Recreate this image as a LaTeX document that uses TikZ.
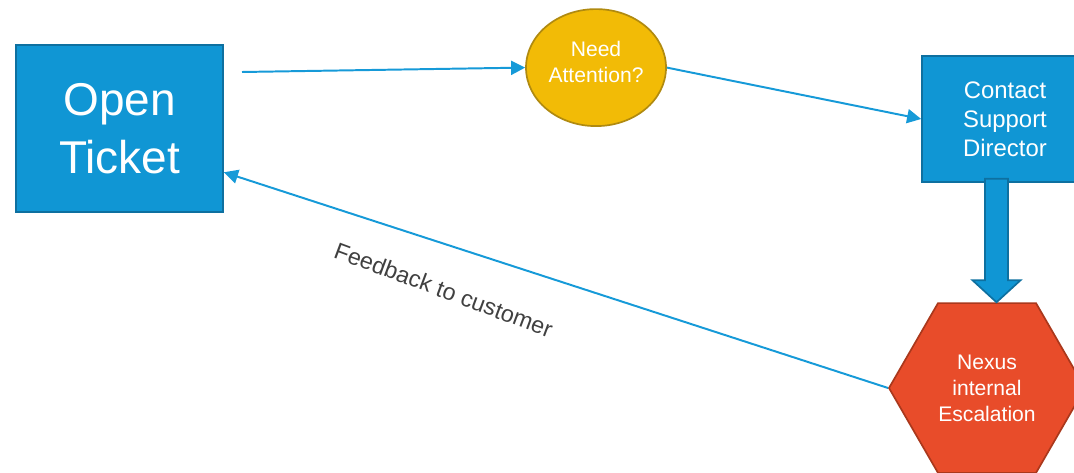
\documentclass[tikz,border=0pt]{standalone}
\usepackage{fontspec}
\setmainfont{Liberation Sans}
\usetikzlibrary{calc,arrows.meta,shapes.geometric}
\definecolor{boxblue}{RGB}{16,150,212}
\definecolor{boxedge}{RGB}{14,112,160}
\definecolor{lineblue}{RGB}{22,154,216}
\definecolor{askfill}{RGB}{242,187,6}
\definecolor{askedge}{RGB}{176,138,16}
\definecolor{hexfill}{RGB}{232,76,42}
\definecolor{hexedge}{RGB}{170,56,28}
\definecolor{notegray}{RGB}{64,64,64}
\tikzset{
	bluebox/.style={draw=boxedge, line width=1.2pt, fill=boxblue, text=white, align=center, inner sep=0pt},
	flow/.style={draw=lineblue, line width=1.4pt, -{Triangle[length=10pt,width=10pt]}},
}

\begin{document}
\begin{tikzpicture}
		%%%%% START %%%%%
		\useasboundingbox (0, 0) rectangle (26.85, 11.8);
		
		\node[bluebox, minimum width=5.175cm, minimum height=4.175cm, font=\fontsize{32.7pt}{41pt}\selectfont] (ticket) at (2.99, 8.59) {Open\\Ticket};
		
		\node[ellipse, draw=askedge, line width=1.2pt, fill=askfill, inner sep=0pt, minimum width=3.5cm, minimum height=2.925cm,
			label={[text=white, align=center, yshift=0.14cm, font=\fontsize{15pt}{19pt}\selectfont]center:Need\\Attention?}] (ask) at (14.9, 10.11) {};
		
		\node[bluebox, minimum width=4.15cm, minimum height=3.15cm, font=\fontsize{17pt}{20.5pt}\selectfont] (contact) at (25.125, 8.825) {Contact\\Support\\Director};
		
		\node[regular polygon, regular polygon sides=6, minimum size=4.9cm, draw=hexedge, line width=1.2pt, fill=hexfill, text=white, align=center, inner sep=0pt, font=\fontsize{15pt}{18.5pt}\selectfont] (esc) at (24.675, 2.1) {Nexus\\internal\\Escalation};
		
		\coordinate (start) at (6.05, 10.0);
		\draw[flow] (start) -- (ask.west);
		\draw[flow] (ask.east) -- (contact.west);
		
		% big arrow down
		\draw[draw=boxedge, line width=1.2pt, fill=boxblue] let \p1 = (contact.south), \p2 = (esc.north) in
			(\x1-0.5cm, \y1+0.1cm) -- (\x1+0.075cm, \y1+0.1cm) -- (\x1+0.075cm, \y2+0.55cm) -- (\x1+0.3875cm, \y2+0.55cm)
			-- (\x1-0.2125cm, \y2) -- (\x1-0.8125cm, \y2+0.55cm) -- (\x1-0.5cm, \y2+0.55cm) -- cycle;
		
		\draw[flow] (esc.west) -- ($(ticket.south east)!0.24!(ticket.north east)$)
			node[pos=0.669, yshift=-1.15cm, rotate=-20.5, text=notegray, font=\fontsize{16.6pt}{19pt}\selectfont] (note) {Feedback to customer};
		
		%%%%% END %%%%%
	\end{tikzpicture}
\end{document}
